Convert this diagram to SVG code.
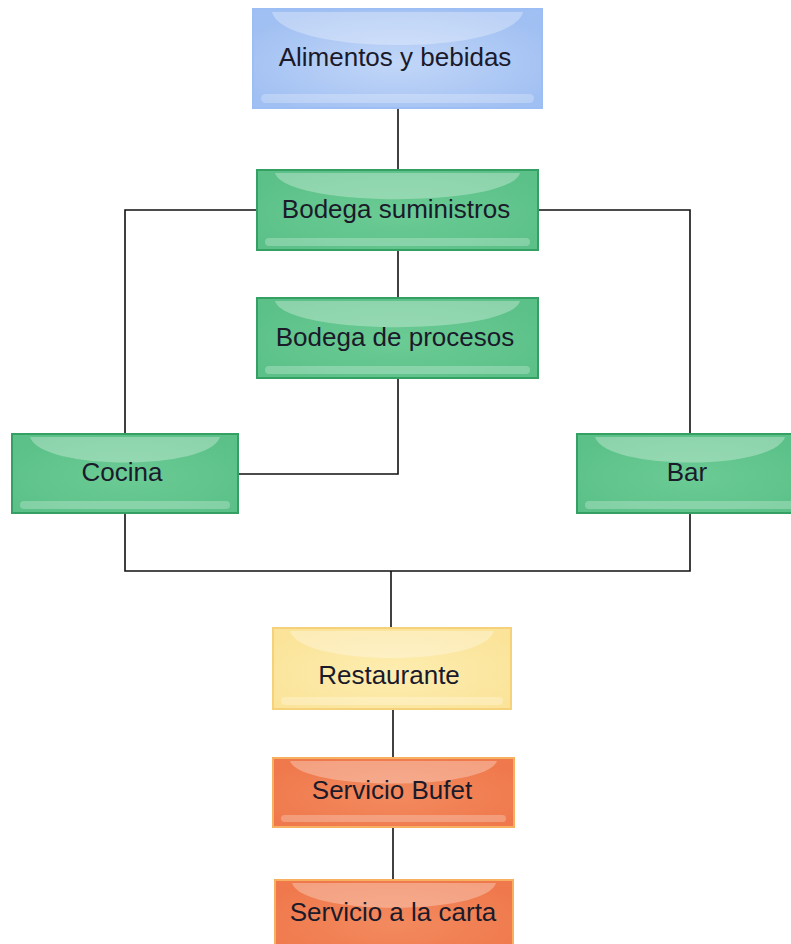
<svg xmlns="http://www.w3.org/2000/svg" width="791" height="944" viewBox="0 0 791 944">
  <defs>
    <radialGradient id="gBlue" cx="0.5" cy="0.55" r="0.6">
      <stop offset="0" stop-color="#c2d7f8"/>
      <stop offset="1" stop-color="#a0bff2"/>
    </radialGradient>
    <radialGradient id="gGreen" cx="0.5" cy="0.55" r="0.6">
      <stop offset="0" stop-color="#6bcb94"/>
      <stop offset="1" stop-color="#5bc188"/>
    </radialGradient>
    <radialGradient id="gYellow" cx="0.5" cy="0.55" r="0.6">
      <stop offset="0" stop-color="#fdedb0"/>
      <stop offset="1" stop-color="#fbe49a"/>
    </radialGradient>
    <radialGradient id="gOrange" cx="0.5" cy="0.55" r="0.6">
      <stop offset="0" stop-color="#f38a5f"/>
      <stop offset="1" stop-color="#ef794c"/>
    </radialGradient>
  </defs>
  <style>
    .box { stroke-width: 2; }
    .blue { fill: url(#gBlue); stroke: #9dbdf5; }
    .green { fill: url(#gGreen); stroke: #35a064; }
    .yellow { fill: url(#gYellow); stroke: #f5d27a; }
    .orange { fill: url(#gOrange); stroke: #f6b060; }
    .gloss { fill: #ffffff; fill-opacity: 0.3; }
    .band { fill: #ffffff; fill-opacity: 0.25; }
    .label { font-family: "Liberation Sans", Arial, sans-serif; font-size: 26px; fill: #1a1a2a; text-anchor: middle; }
    .wire { fill: none; stroke: #111111; stroke-width: 1.6; }
  </style>

  <g id="connectors">
    <path class="wire" d="M398 108 V170"/>
    <path class="wire" d="M256 210 H125 V434"/>
    <path class="wire" d="M538 210 H690 V434"/>
    <path class="wire" d="M398 250 V298"/>
    <path class="wire" d="M398 378 V474 H238"/>
    <path class="wire" d="M125 513 V571 H690 V513"/>
    <path class="wire" d="M391 571 V628"/>
    <path class="wire" d="M393 709 V758"/>
    <path class="wire" d="M393 827 V880"/>
  </g>

  <g id="alimentos">
    <rect class="box blue" x="253" y="9" width="289" height="99"/>
    <path class="gloss" d="M272 12 H523 C512 56 283 56 272 12 Z"/>
    <rect class="band" x="261" y="94" width="273" height="9" rx="4.5"/>
    <text class="label" x="395" y="66">Alimentos y bebidas</text>
  </g>

  <g id="bodega-suministros">
    <rect class="box green" x="257" y="170" width="281" height="80"/>
    <path class="gloss" d="M275 173 H520 C509 208 286 208 275 173 Z"/>
    <rect class="band" x="265" y="238" width="265" height="8" rx="4"/>
    <text class="label" x="396" y="218">Bodega suministros</text>
  </g>

  <g id="bodega-procesos">
    <rect class="box green" x="257" y="298" width="281" height="80"/>
    <path class="gloss" d="M275 301 H520 C509 336 286 336 275 301 Z"/>
    <rect class="band" x="265" y="366" width="265" height="8" rx="4"/>
    <text class="label" x="395" y="346">Bodega de procesos</text>
  </g>

  <g id="cocina">
    <rect class="box green" x="12" y="434" width="226" height="79"/>
    <path class="gloss" d="M30 437 H220 C209 471 41 471 30 437 Z"/>
    <rect class="band" x="20" y="501" width="210" height="8" rx="4"/>
    <text class="label" x="122" y="481">Cocina</text>
  </g>

  <g id="bar">
    <rect class="box green" x="577" y="434" width="230" height="79"/>
    <path class="gloss" d="M595 437 H785 C774 471 606 471 595 437 Z"/>
    <rect class="band" x="585" y="501" width="214" height="8" rx="4"/>
    <text class="label" x="687" y="481">Bar</text>
  </g>

  <g id="restaurante">
    <rect class="box yellow" x="273" y="628" width="238" height="81"/>
    <path class="gloss" d="M290 631 H494 C484 667 300 667 290 631 Z"/>
    <rect class="band" x="281" y="697" width="222" height="8" rx="4"/>
    <text class="label" x="389" y="684">Restaurante</text>
  </g>

  <g id="servicio-bufet">
    <rect class="box orange" x="273" y="758" width="241" height="69"/>
    <path class="gloss" d="M290 761 H497 C487 791 300 791 290 761 Z"/>
    <rect class="band" x="281" y="815" width="225" height="7" rx="3.5"/>
    <text class="label" x="392" y="799">Servicio Bufet</text>
  </g>

  <g id="servicio-carta">
    <rect class="box orange" x="275" y="880" width="238" height="80"/>
    <path class="gloss" d="M292 883 H496 C486 916 302 916 292 883 Z"/>
    <text class="label" x="393" y="921">Servicio a la carta</text>
  </g>
</svg>
